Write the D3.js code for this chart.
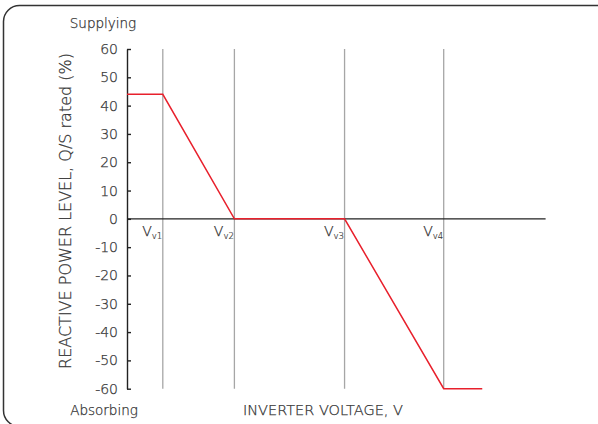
<!DOCTYPE html>
<html><head><meta charset="utf-8">
<script src="https://cdn.jsdelivr.net/npm/d3@7/dist/d3.min.js"></script>
<style>body{margin:0;background:#fff}svg{display:block}text{font-family:"DejaVu Sans",sans-serif;font-weight:200;fill:#333;stroke:#333;stroke-width:0.25px}</style>
</head><body>
<svg id="c" width="598" height="424"></svg>
<script>
const yTicks = [60, 50, 40, 30, 20, 10, 0, -10, -20, -30, -40, -50, -60];
const vLabels = ["v1", "v2", "v3", "v4"];
const vVoltages = [207, 220, 240, 258];
const curveV = [200.5, 207, 220, 240, 258, 265];
const curveQ = [44, 44, 0, 0, -60, -60];
const xDomain = [200.5, 276.5];
const yDomain = [-60, 60];

const FONT = '"DejaVu Sans",sans-serif';
const svg = d3.select("#c");
const x = d3.scaleLinear().domain(xDomain).range([127, 545.6]);
const y = d3.scaleLinear().domain(yDomain).range([388.7, 49]);

svg.append("rect").attr("x", 3.5).attr("y", 5.5).attr("width", 610).attr("height", 421)
  .attr("rx", 16).attr("fill", "none").attr("stroke", "#333").attr("stroke-width", 1.5);

// vertical gray lines
svg.selectAll("line.v").data(vVoltages).enter().append("line")
  .attr("x1", d => x(d)).attr("x2", d => x(d)).attr("y1", y(60)).attr("y2", y(-60))
  .attr("stroke", "#a6a6a6").attr("stroke-width", 1.3);

// zero line
svg.append("line").attr("x1", x(xDomain[0])).attr("x2", x(xDomain[1]))
  .attr("y1", y(0)).attr("y2", y(0)).attr("stroke", "#222").attr("stroke-width", 1.4);

// y axis
const ya = svg.append("g").attr("transform", `translate(${x(xDomain[0])},0)`)
  .call(d3.axisLeft(y).tickValues(yTicks).tickSize(-4).tickSizeOuter(0).tickPadding(9).tickFormat(d => String(d)));
ya.select(".domain").attr("stroke", "#222").attr("stroke-width", 1.4);
ya.selectAll(".tick line").attr("stroke", "#222").attr("stroke-width", 1.4);
ya.selectAll(".tick text").style("font-family", FONT).style("font-weight", 200).style("font-size", "14px")
  .style("fill", "#333").style("stroke", "#333").style("stroke-width", "0.25px");

// red curve
const pts = curveV.map((v, i) => [v, curveQ[i]]);
svg.append("path").datum(pts)
  .attr("d", d3.line().x(d => x(d[0])).y(d => y(d[1])))
  .attr("fill", "none").attr("stroke", "#e8202c").attr("stroke-width", 1.5);

// V labels
vVoltages.forEach((v, i) => {
  const t = svg.append("text").attr("x", x(v) - 0.5).attr("y", y(0) + 17).attr("text-anchor", "end")
    .style("font-size", "14px");
  t.append("tspan").text("V");
  t.append("tspan").attr("dy", 3).style("font-size", "8.5px").style("stroke-width", "0.2px").text(vLabels[i]);
});

svg.append("text").attr("x", 103).attr("y", 28).attr("text-anchor", "middle").style("font-size", "13.5px").text("Supplying");
svg.append("text").attr("x", 104).attr("y", 415).attr("text-anchor", "middle").style("font-size", "13.5px").text("Absorbing");
svg.append("text").attr("x", 323).attr("y", 415).attr("text-anchor", "middle").style("font-size", "14.5px").text("INVERTER VOLTAGE, V");
svg.append("text").attr("transform", "translate(71,211) rotate(-90)").attr("text-anchor", "middle")
  .style("font-size", "16px").text("REACTIVE POWER LEVEL, Q/S rated (%)");
</script>
</body></html>
